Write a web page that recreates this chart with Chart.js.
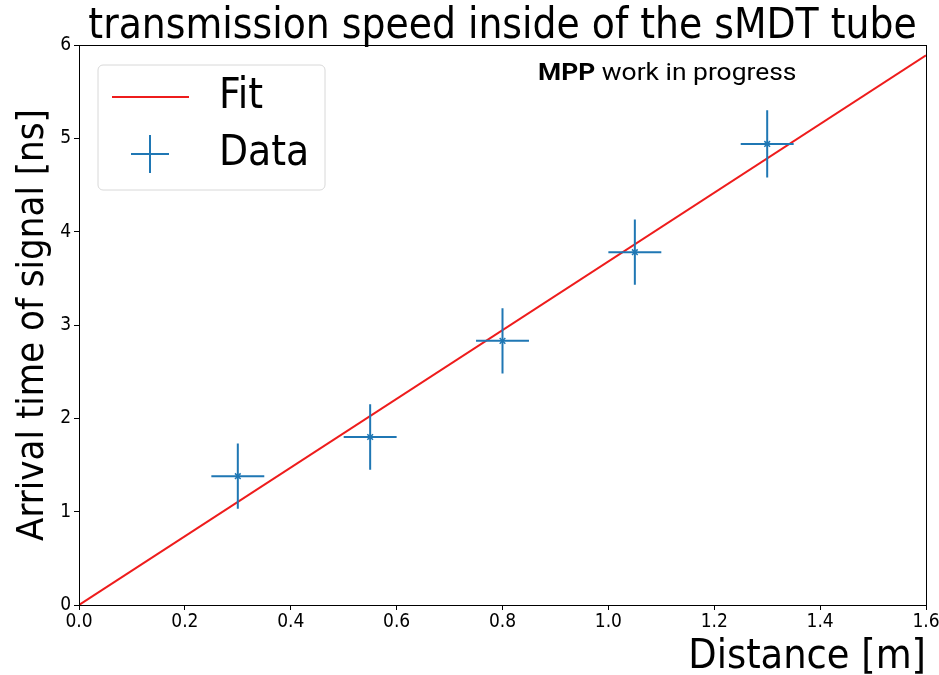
<!DOCTYPE html>
<html>
<head>
<meta charset="utf-8">
<script src="https://cdn.jsdelivr.net/npm/chart.js@4"></script>
<style>
  html, body { margin: 0; padding: 0; background: #fff; }
  #wrap { width: 939px; height: 675px; }
</style>
</head>
<body>
<div id="wrap"><canvas id="chart" width="939" height="675"></canvas></div>
<script>
// valores
const distance = [0.3, 0.55, 0.8, 1.05, 1.3];
const arrival = [1.38, 1.80, 2.83, 3.78, 4.94];
const distErr = [0.05, 0.05, 0.05, 0.05, 0.05];
const arrivalErr = [0.35, 0.35, 0.35, 0.35, 0.36];
const fitX = [0, 1.6];
const fitY = [0, 5.89];
const xTicks = [0, 0.2, 0.4, 0.6, 0.8, 1.0, 1.2, 1.4, 1.6];
const yTicks = [0, 1, 2, 3, 4, 5, 6];
const titleText = 'transmission speed inside of the sMDT tube';

const blue = '#1f77b4';
const red = '#ee1c1c';
const font = "'DejaVu Sans Condensed', 'DejaVu Sans', sans-serif";

// barras de error, marco, título, anotación y leyenda
const extras = {
    id: 'extras',
    afterDatasetsDraw(chart) {
        const ctx = chart.ctx;
        const xs = chart.scales.x, ys = chart.scales.y;
        ctx.save();
        ctx.strokeStyle = blue;
        ctx.lineWidth = 2;
        distance.forEach((d, i) => {
            const px = xs.getPixelForValue(d);
            const py = ys.getPixelForValue(arrival[i]);
            ctx.beginPath();
            ctx.moveTo(xs.getPixelForValue(d - distErr[i]), py);
            ctx.lineTo(xs.getPixelForValue(d + distErr[i]), py);
            ctx.moveTo(px, ys.getPixelForValue(arrival[i] - arrivalErr[i]));
            ctx.lineTo(px, ys.getPixelForValue(arrival[i] + arrivalErr[i]));
            ctx.stroke();
        });
        ctx.restore();
    },
    afterDraw(chart) {
        const ctx = chart.ctx;
        const a = chart.chartArea;
        ctx.save();
        ctx.strokeStyle = '#000';
        ctx.lineWidth = 1;
        ctx.strokeRect(a.left + 0.5, a.top + 0.5, a.right - a.left, a.bottom - a.top);

        // título centrado sobre el área del gráfico
        ctx.fillStyle = '#000';
        ctx.font = "42px " + font;
        ctx.textAlign = 'center';
        ctx.textBaseline = 'alphabetic';
        ctx.fillText(titleText, (a.left + a.right) / 2, 38);

        // anotación MPP
        ctx.textAlign = 'left';
        const tx = a.left + (a.right - a.left) * 0.542;
        const ty = a.top + 35;
        ctx.save();
        ctx.translate(tx, ty);
        ctx.scale(1.1, 1);
        ctx.font = "bold 24px Roboto";
        ctx.fillText('MPP', 0, 0);
        const w = ctx.measureText('MPP ').width;
        ctx.font = "24px Roboto";
        ctx.fillText('work in progress', w, 0);
        ctx.restore();

        // leyenda
        const lx = a.left + 19, ly = a.top + 20, lw = 227, lh = 125;
        ctx.fillStyle = 'rgba(255,255,255,0.8)';
        ctx.strokeStyle = '#d8d8d8';
        ctx.beginPath();
        ctx.roundRect(lx, ly, lw, lh, 5);
        ctx.fill();
        ctx.stroke();
        const ds = chart.data.datasets;
        ctx.font = "42px " + font;
        ctx.fillStyle = '#000';
        ctx.textBaseline = 'middle';
        let y1 = ly + 32;
        ctx.strokeStyle = red;
        ctx.lineWidth = 2;
        ctx.beginPath();
        ctx.moveTo(lx + 14, y1);
        ctx.lineTo(lx + 91, y1);
        ctx.stroke();
        ctx.fillText(ds[0].label, lx + 121, y1);
        let y2 = ly + 89;
        ctx.strokeStyle = blue;
        ctx.beginPath();
        ctx.moveTo(lx + 33, y2);
        ctx.lineTo(lx + 71, y2);
        ctx.moveTo(lx + 52, y2 - 19);
        ctx.lineTo(lx + 52, y2 + 19);
        ctx.stroke();
        ctx.fillText(ds[1].label, lx + 121, y2);
        ctx.restore();
    }
};

new Chart(document.getElementById('chart'), {
    type: 'scatter',
    data: {
        datasets: [{
            label: 'Fit',
            type: 'line',
            data: fitX.map((x, i) => ({ x: x, y: fitY[i] })),
            borderColor: red,
            borderWidth: 2,
            pointRadius: 0,
            fill: false
        }, {
            label: 'Data',
            data: distance.map((x, i) => ({ x: x, y: arrival[i] })),
            pointStyle: 'crossRot',
            pointRadius: 4,
            borderColor: blue,
            backgroundColor: blue,
            borderWidth: 1.5
        }]
    },
    options: {
        responsive: false,
        animation: false,
        layout: { padding: { top: 45, right: 13, left: 0, bottom: 0 } },
        plugins: {
            legend: { display: false },
            tooltip: { enabled: false },
            title: { display: false }
        },
        scales: {
            x: {
                type: 'linear',
                min: 0, max: 1.6,
                afterBuildTicks: (s) => { s.ticks = xTicks.map(v => ({ value: v })); },
                afterFit: (s) => { s.height = 70; s.paddingRight = 0; s.paddingLeft = 0; },
                grid: { drawOnChartArea: false, color: '#000', tickLength: 5 },
                border: { color: '#000' },
                ticks: {
                    color: '#000',
                    font: { family: font, size: 19 },
                    padding: 1,
                    maxRotation: 0,
                    callback: (v) => v.toFixed(1)
                },
                title: {
                    display: true,
                    text: 'Distance [m]',
                    align: 'end',
                    color: '#000',
                    font: { family: font, size: 41, lineHeight: 0.85 },
                    padding: { top: 0, bottom: 0 }
                }
            },
            y: {
                min: 0, max: 6,
                afterBuildTicks: (s) => { s.ticks = yTicks.map(v => ({ value: v })); },
                afterFit: (s) => { s.width = 79; s.paddingTop = 0; s.paddingBottom = 0; },
                grid: { drawOnChartArea: false, color: '#000', tickLength: 5 },
                border: { color: '#000' },
                ticks: {
                    color: '#000',
                    font: { family: font, size: 19 },
                    padding: 3
                },
                title: {
                    display: true,
                    text: 'Arrival time of signal [ns]',
                    color: '#000',
                    font: { family: font, size: 38 },
                    padding: { top: 10, bottom: 0 }
                }
            }
        }
    },
    plugins: [extras]
});
</script>
</body>
</html>
